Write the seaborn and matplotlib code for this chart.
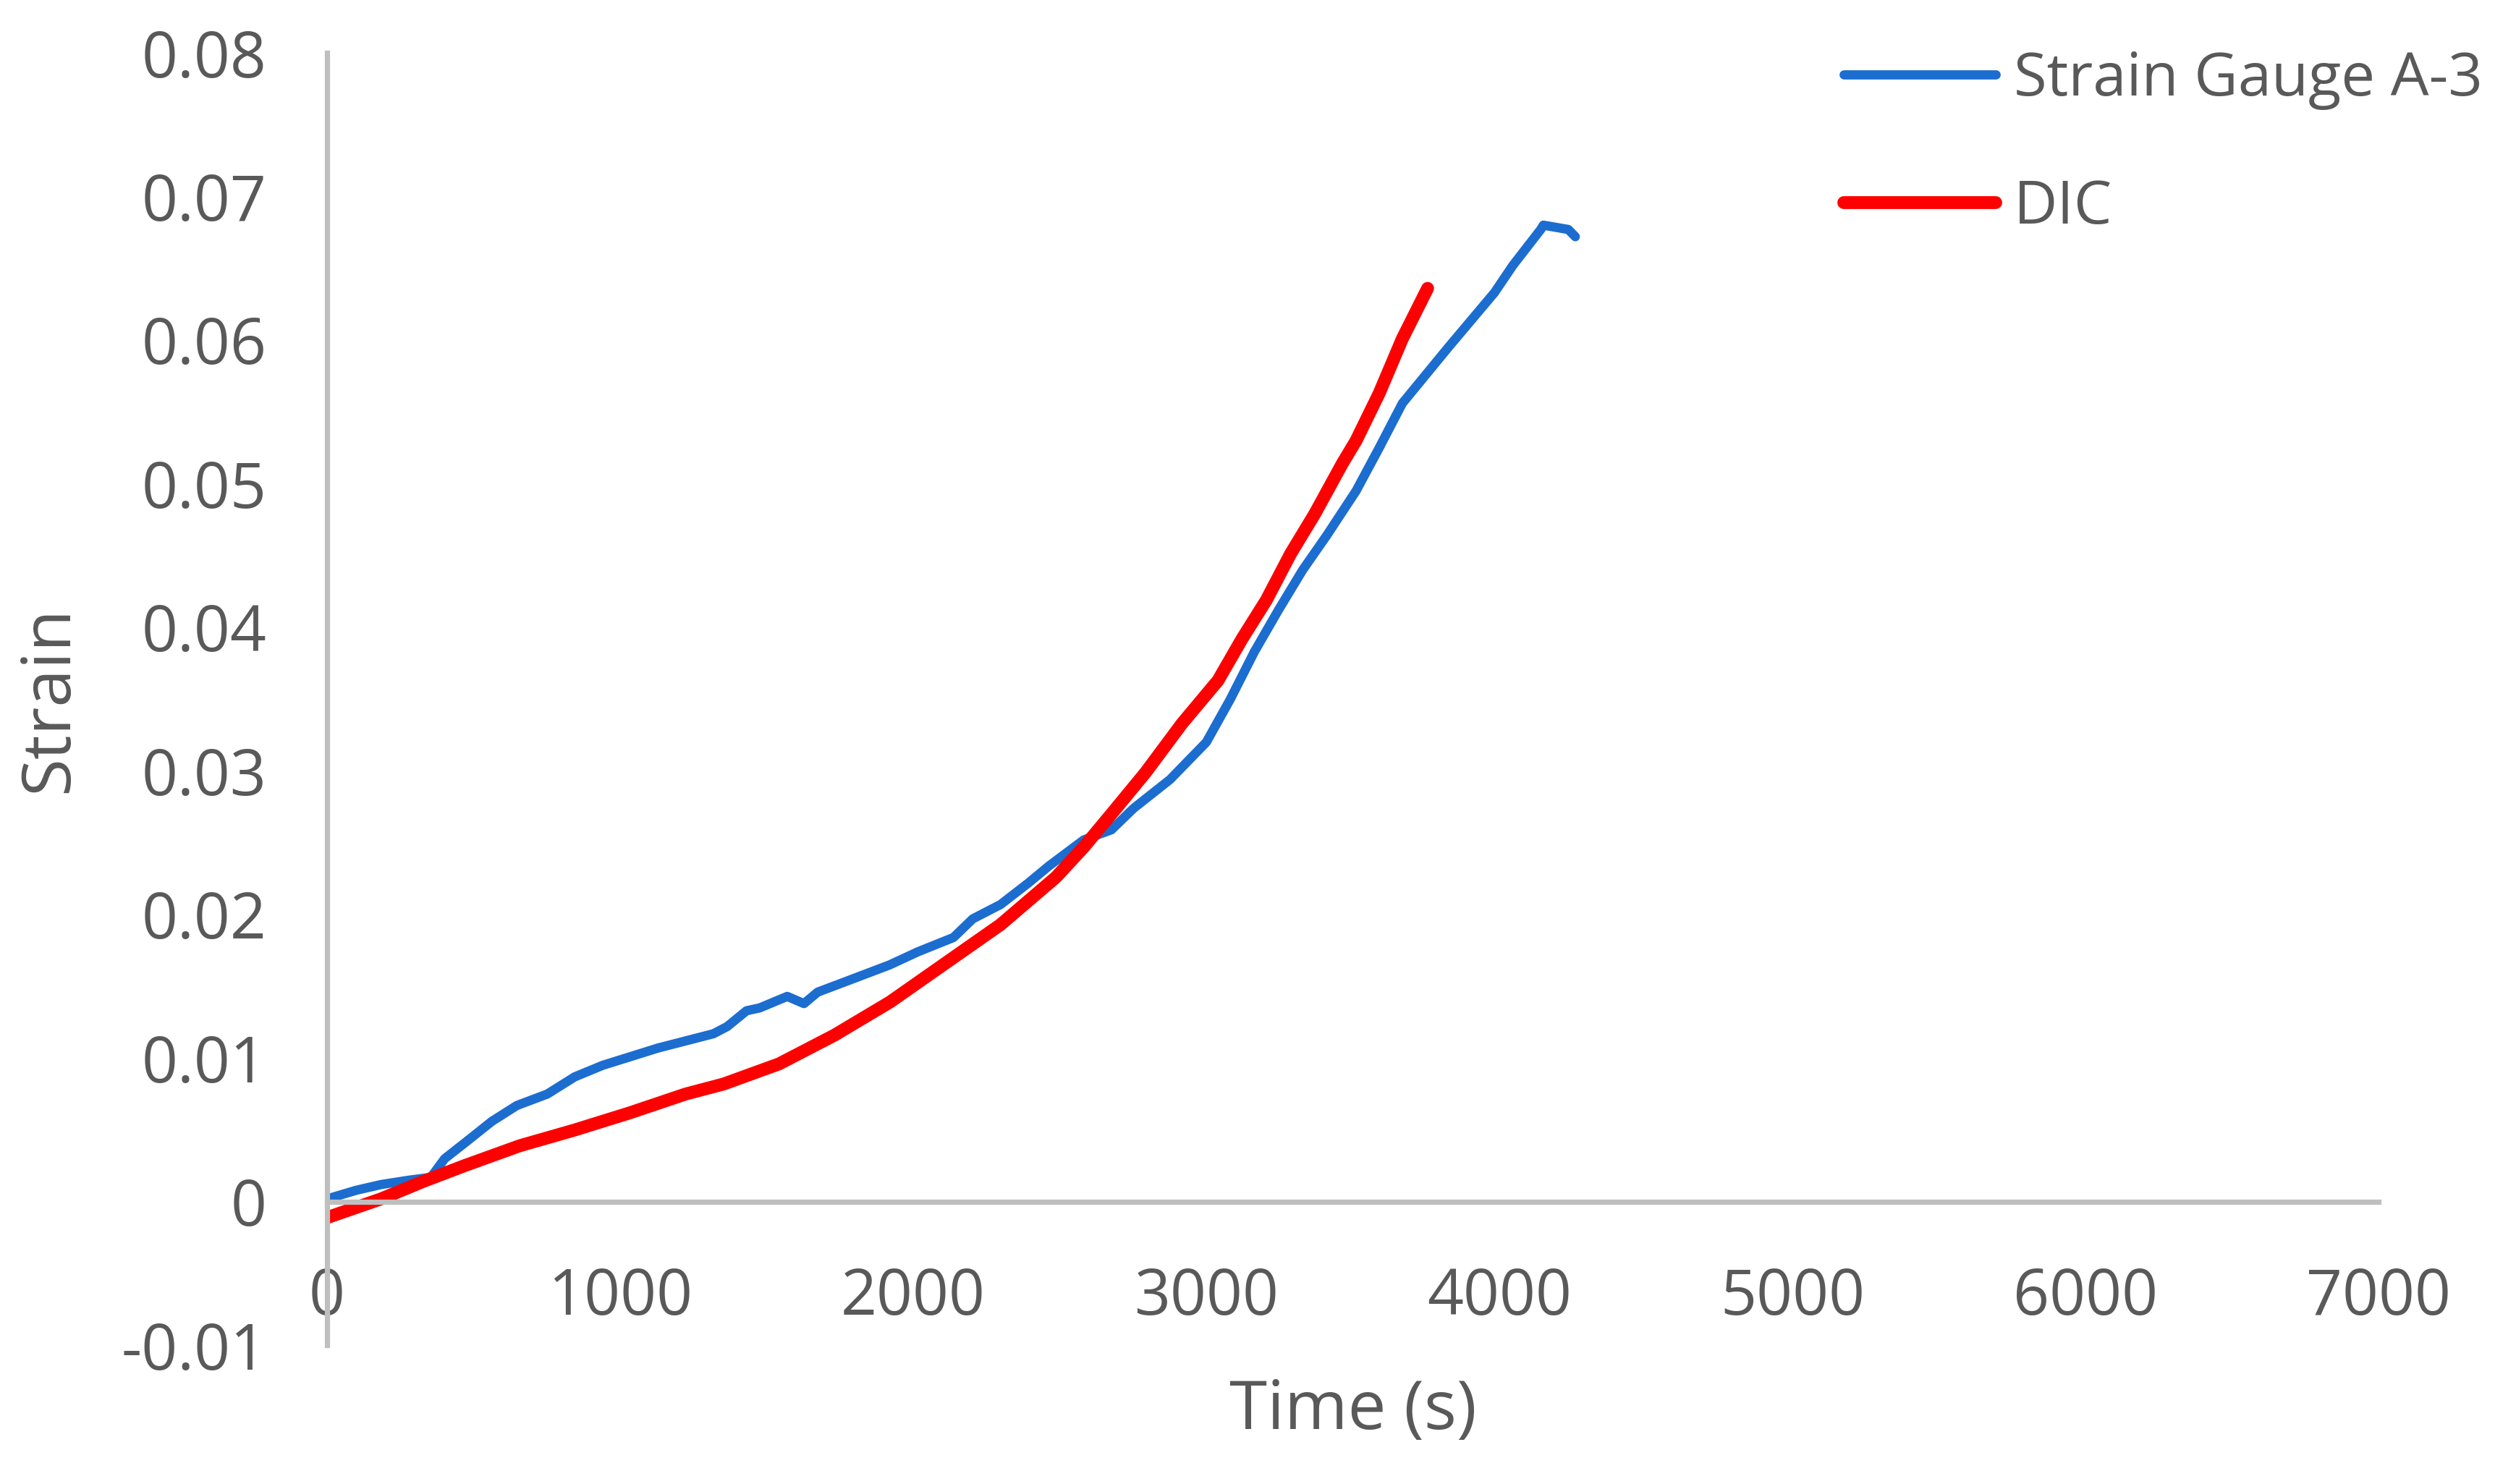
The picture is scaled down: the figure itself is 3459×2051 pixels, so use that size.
import numpy as np
import pandas as pd
import matplotlib
matplotlib.use("Agg")
import matplotlib.pyplot as plt
import seaborn as sns

# Values
time_gauge = [0, 99, 184, 278, 354, 401, 476, 562, 647, 751, 845, 940, 1034, 1128,
              1223, 1318, 1365, 1431, 1476, 1570, 1627, 1674, 1778, 1920, 2015, 2137,
              2203, 2298, 2393, 2464, 2582, 2676, 2752, 2876, 3000, 3082, 3164, 3246,
              3329, 3411, 3511, 3590, 3669, 3826, 3983, 4046, 4141, 4150, 4235, 4259]
strain_gauge = [0.0002, 0.0008, 0.0012, 0.0015, 0.0017, 0.0030, 0.0042, 0.0056, 0.0067,
                0.0075, 0.0087, 0.0095, 0.0101, 0.0107, 0.0112, 0.0117, 0.0122, 0.0133,
                0.0135, 0.0143, 0.0138, 0.0146, 0.0154, 0.0165, 0.0174, 0.0184, 0.0197,
                0.0207, 0.0222, 0.0234, 0.0252, 0.0259, 0.0274, 0.0294, 0.0320, 0.0350,
                0.0383, 0.0412, 0.0440, 0.0464, 0.0495, 0.0525, 0.0556, 0.0595, 0.0633,
                0.0652, 0.0677, 0.0680, 0.0677, 0.0672]

time_dic = [0, 184, 326, 467, 657, 845, 1034, 1223, 1353, 1542, 1731, 1920, 2109, 2298,
            2487, 2582, 2676, 2793, 2917, 3040, 3122, 3205, 3287, 3370, 3464, 3511, 3590,
            3669, 3755]
strain_dic = [-0.0011, 0.0002, 0.0014, 0.0025, 0.0039, 0.0050, 0.0062, 0.0075, 0.0082,
              0.0096, 0.0116, 0.0139, 0.0166, 0.0193, 0.0226, 0.0247, 0.0270, 0.0299,
              0.0333, 0.0363, 0.0392, 0.0419, 0.0451, 0.0479, 0.0514, 0.0530, 0.0563,
              0.0601, 0.0636]

series_names = ["Strain Gauge A-3", "DIC"]
x_ticks = [0, 1000, 2000, 3000, 4000, 5000, 6000, 7000]
x_tick_labels = ["0", "1000", "2000", "3000", "4000", "5000", "6000", "7000"]
y_ticks = [-0.01, 0, 0.01, 0.02, 0.03, 0.04, 0.05, 0.06, 0.07, 0.08]
y_tick_labels = ["-0.01", "0", "0.01", "0.02", "0.03", "0.04", "0.05", "0.06", "0.07", "0.08"]

gauge_df = pd.DataFrame({"time": time_gauge, "strain": strain_gauge})
dic_df = pd.DataFrame({"time": time_dic, "strain": strain_dic})

sns.set_style("white")
plt.rcParams["font.family"] = ["Open Sans", "DejaVu Sans"]

text_grey = "#595959"
axis_grey = "#bfbfbf"

fig = plt.figure(figsize=(17.295, 10.255), dpi=200)
ax = fig.add_axes([0.1307, 0.0934, 0.8196, 0.871])

sns.lineplot(data=gauge_df, x="time", y="strain", ax=ax, color="#1c6dd0",
             linewidth=4.6, label=series_names[0], sort=False, estimator=None,
             solid_capstyle="round")
sns.lineplot(data=dic_df, x="time", y="strain", ax=ax, color="#ff0000",
             linewidth=6.4, label=series_names[1], sort=False, estimator=None,
             solid_capstyle="round")

ax.set_xlim(0, 7000)
ax.set_ylim(-0.01, 0.08)
ax.set_xticks(x_ticks)
ax.set_xticklabels(x_tick_labels)
ax.set_yticks(y_ticks)
ax.set_yticklabels(y_tick_labels)

# Excel style axes: x axis crosses at y = 0
for side in ["top", "right"]:
    ax.spines[side].set_visible(False)
ax.spines["bottom"].set_position(("data", 0))
for side in ["left", "bottom"]:
    ax.spines[side].set_color(axis_grey)
    ax.spines[side].set_linewidth(2.6)

ax.tick_params(axis="both", length=0, labelsize=31.5, colors=text_grey)
ax.tick_params(axis="y", pad=30)
ax.tick_params(axis="x", pad=32)

ax.set_xlabel("Time (s)", fontsize=34, color=text_grey)
ax.set_ylabel("Strain", fontsize=34, color=text_grey)
ax.xaxis.set_label_coords(0.5, -0.0507)
ax.xaxis.label.set_va("center")
ax.yaxis.set_label_coords(-0.1354, 0.5)
ax.yaxis.label.set_va("center")

leg = ax.legend(loc="upper left", bbox_to_anchor=(0.7366, 0.966),
                bbox_transform=fig.transFigure, frameon=False, fontsize=30,
                handlelength=2.52, handletextpad=0.3, labelspacing=1.13,
                borderpad=0, borderaxespad=0)
for txt in leg.get_texts():
    txt.set_color(text_grey)

fig.savefig("out.png", dpi=200, facecolor="white")
